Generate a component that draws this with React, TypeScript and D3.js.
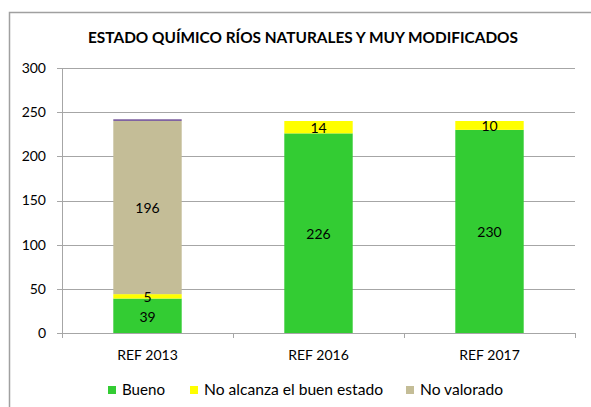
import React from 'react';
import * as d3 from 'd3';

const categories = ['REF 2013', 'REF 2016', 'REF 2017'];
const bueno = [39, 226, 230];
const noAlcanza = [5, 14, 10];
const noValorado = [196, 0, 0];
const otros = [2, 0, 0]; // thin purple cap on 2013, not in legend
const yTicks = [0, 50, 100, 150, 200, 250, 300];

const series = [
  { key: 'bueno', label: 'Bueno', values: bueno, color: '#33CC33', legend: true },
  { key: 'noAlcanza', label: 'No alcanza el buen estado', values: noAlcanza, color: '#FFFF00', legend: true },
  { key: 'noValorado', label: 'No valorado', values: noValorado, color: '#C4BD97', legend: true },
  { key: 'otros', label: 'Otros', values: otros, color: '#8064A2', legend: false },
];

const W = 591;
const H = 407;
const left = 62;
const right = 575;
const top = 68;
const bottom = 333;
const font = 'Lato, "Open Sans", sans-serif';

export default function App() {
  const x = d3.scaleBand<string>()
    .domain(categories)
    .range([left, right])
    .paddingInner(0.6)
    .paddingOuter(0.3);
  const y = d3.scaleLinear().domain([0, 300]).range([bottom, top]);
  const step = (right - left) / categories.length;

  // stacked segments
  const stack = d3.stack<number>()
    .keys(series.map((_, i) => String(i)))
    .value((i, k) => series[+k].values[i]);
  const stacked = stack(categories.map((_, i) => i));

  const legendItems = series.filter(s => s.legend);
  const legendX = [108, 190, 406];
  const legendW = [43, 179, 83];

  return (
    <>
      <style>{`body{margin:0}`}</style>
      <svg width={W} height={H} style={{ display: 'block', fontFamily: font }}>
        <rect x={0} y={0} width={W} height={H} fill="#fff" />
        <rect x={9.5} y={12.5} width={620} height={440} fill="none" stroke="#A0A0A0" strokeWidth={1.5} />

        <text x={88} y={43} fontSize={15} fontWeight={700} fill="#000"
          textLength={430} lengthAdjust="spacingAndGlyphs">
          ESTADO QUÍMICO RÍOS NATURALES Y MUY MODIFICADOS
        </text>

        {/* gridlines & y axis */}
        {yTicks.map(t => (
          <g key={t}>
            <line x1={left - 5} x2={right} y1={Math.round(y(t)) + 0.5} y2={Math.round(y(t)) + 0.5}
              stroke="#A6A6A6" strokeWidth={1} />
            <text x={46} y={y(t)} dy="0.35em" textAnchor="end" fontSize={14} fill="#000">{t}</text>
          </g>
        ))}
        <line x1={left + 0.5} x2={left + 0.5} y1={top} y2={bottom + 5} stroke="#A6A6A6" />
        {d3.range(categories.length + 1).map(i => (
          <line key={i} x1={left + i * step + 0.5} x2={left + i * step + 0.5} y1={bottom} y2={bottom + 5} stroke="#A6A6A6" />
        ))}

        {/* bars */}
        {stacked.map((layer, si) => (
          <g key={si}>
            {layer.map((d, ci) => {
              const v = d[1] - d[0];
              if (v <= 0) return null;
              return (
                <rect key={ci} x={x(categories[ci])} width={x.bandwidth()}
                  y={y(d[1])} height={y(d[0]) - y(d[1])} fill={series[si].color} />
              );
            })}
          </g>
        ))}

        {/* data labels */}
        {stacked.slice(0, 3).map((layer, si) => (
          <g key={si}>
            {layer.map((d, ci) => {
              const v = d[1] - d[0];
              if (v <= 0) return null;
              return (
                <text key={ci} x={(x(categories[ci]) as number) + x.bandwidth() / 2}
                  y={y((d[0] + d[1]) / 2) + 1} dy="0.35em" textAnchor="middle" fontSize={14} fill="#000">
                  {v}
                </text>
              );
            })}
          </g>
        ))}

        {/* category labels */}
        {categories.map(c => (
          <text key={c} x={(x(c) as number) + x.bandwidth() / 2} y={355} dy="0.35em"
            textAnchor="middle" fontSize={14} fill="#000">{c}</text>
        ))}

        {/* legend */}
        {legendItems.map((s, i) => (
          <g key={s.key} transform={`translate(${legendX[i]},390)`}>
            <rect x={0} y={-4} width={8} height={8} fill={s.color} />
            <text x={14} y={0} dy="0.35em" fontSize={15} fill="#000"
              textLength={legendW[i]} lengthAdjust="spacingAndGlyphs">{s.label}</text>
          </g>
        ))}
      </svg>
    </>
  );
}
